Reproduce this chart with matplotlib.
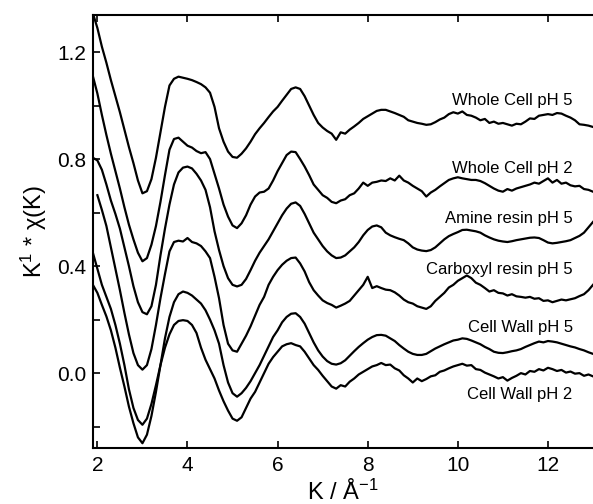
import numpy as np
import matplotlib
matplotlib.use("Agg")
import matplotlib.pyplot as plt
from matplotlib.ticker import FixedLocator

plt.rcParams["font.family"] = ["Liberation Sans", "DejaVu Sans"]
plt.rcParams["mathtext.default"] = "regular"

# k grid (1/Angstrom), 0.1 steps; carboxyl scan starts one step later
k = np.round(np.arange(1.9, 13.05, 0.1), 1)
k_carb = k[1:]

whole_cell_ph5 = [
    1.345, 1.29, 1.22, 1.16, 1.095, 1.035, 0.975, 0.91, 0.845, 0.785,
    0.72, 0.672, 0.68, 0.725, 0.805, 0.90, 0.995, 1.075, 1.100, 1.108,
    1.104, 1.100, 1.095, 1.088, 1.080, 1.068, 1.048, 0.995, 0.915, 0.865,
    0.828, 0.808, 0.805, 0.820, 0.840, 0.865, 0.893, 0.915, 0.935, 0.957,
    0.978, 0.995, 1.018, 1.040, 1.062, 1.068, 1.062, 1.035, 1.000, 0.965,
    0.935, 0.918, 0.905, 0.895, 0.872, 0.900, 0.895, 0.910, 0.922, 0.935,
    0.950, 0.960, 0.970, 0.980, 0.984, 0.984, 0.978, 0.972, 0.965, 0.958,
    0.945, 0.940, 0.935, 0.932, 0.928, 0.930, 0.938, 0.948, 0.955, 0.968,
    0.975, 0.970, 0.978, 0.965, 0.962, 0.955, 0.945, 0.950, 0.935, 0.940,
    0.932, 0.935, 0.930, 0.925, 0.932, 0.930, 0.940, 0.952, 0.950, 0.962,
    0.965, 0.968, 0.965, 0.972, 0.970, 0.962, 0.955, 0.945, 0.930, 0.928,
    0.925, 0.920,
]
whole_cell_ph2 = [
    1.11, 1.045, 0.965, 0.89, 0.82, 0.755, 0.69, 0.62, 0.555, 0.50,
    0.45, 0.418, 0.43, 0.48, 0.55, 0.64, 0.74, 0.835, 0.875, 0.88,
    0.865, 0.85, 0.843, 0.83, 0.822, 0.826, 0.80, 0.745, 0.69, 0.63,
    0.585, 0.552, 0.542, 0.56, 0.59, 0.63, 0.66, 0.675, 0.678, 0.69,
    0.72, 0.755, 0.785, 0.815, 0.828, 0.826, 0.80, 0.772, 0.74, 0.705,
    0.685, 0.665, 0.655, 0.640, 0.635, 0.645, 0.650, 0.665, 0.672, 0.690,
    0.712, 0.700, 0.712, 0.715, 0.720, 0.718, 0.728, 0.720, 0.738, 0.720,
    0.712, 0.700, 0.690, 0.680, 0.660, 0.675, 0.685, 0.698, 0.710, 0.722,
    0.728, 0.732, 0.728, 0.725, 0.722, 0.722, 0.718, 0.710, 0.700, 0.690,
    0.682, 0.678, 0.688, 0.682, 0.690, 0.695, 0.700, 0.705, 0.712, 0.708,
    0.718, 0.728, 0.712, 0.722, 0.708, 0.712, 0.702, 0.698, 0.700, 0.688,
    0.685, 0.678,
]
amine_ph5 = [
    0.805, 0.795, 0.76, 0.705, 0.645, 0.595, 0.54, 0.47, 0.40, 0.325,
    0.265, 0.228, 0.220, 0.25, 0.33, 0.44, 0.54, 0.63, 0.705, 0.75,
    0.768, 0.772, 0.765, 0.745, 0.72, 0.685, 0.62, 0.53, 0.46, 0.40,
    0.355, 0.33, 0.324, 0.33, 0.352, 0.385, 0.42, 0.45, 0.475, 0.50,
    0.53, 0.56, 0.59, 0.615, 0.633, 0.638, 0.625, 0.595, 0.56, 0.525,
    0.50, 0.475, 0.455, 0.44, 0.43, 0.432, 0.44, 0.455, 0.47, 0.49,
    0.515, 0.535, 0.548, 0.552, 0.545, 0.525, 0.515, 0.508, 0.502, 0.497,
    0.485, 0.47, 0.462, 0.458, 0.456, 0.46, 0.47, 0.485, 0.50, 0.512,
    0.52, 0.527, 0.535, 0.536, 0.533, 0.53, 0.525, 0.515, 0.507, 0.50,
    0.495, 0.492, 0.49, 0.493, 0.497, 0.50, 0.503, 0.506, 0.507, 0.505,
    0.497, 0.488, 0.485, 0.487, 0.49, 0.493, 0.497, 0.505, 0.513, 0.525,
    0.545, 0.565,
]
carboxyl_ph5 = [
    0.665, 0.61, 0.55, 0.47, 0.39, 0.31, 0.225, 0.145, 0.075, 0.03,
    0.013, 0.03, 0.09, 0.18, 0.28, 0.37, 0.455, 0.49, 0.495, 0.492,
    0.505, 0.49, 0.485, 0.475, 0.455, 0.43, 0.36, 0.28, 0.18, 0.11,
    0.085, 0.08, 0.11, 0.14, 0.175, 0.215, 0.255, 0.285, 0.33, 0.36,
    0.385, 0.405, 0.42, 0.43, 0.432, 0.41, 0.38, 0.34, 0.31, 0.29,
    0.272, 0.262, 0.255, 0.245, 0.252, 0.26, 0.27, 0.29, 0.31, 0.33,
    0.36, 0.318, 0.325, 0.318, 0.312, 0.31, 0.302, 0.29, 0.275, 0.265,
    0.26, 0.25, 0.245, 0.24, 0.25, 0.27, 0.285, 0.30, 0.32, 0.33,
    0.345, 0.355, 0.365, 0.355, 0.338, 0.33, 0.318, 0.305, 0.31, 0.30,
    0.298, 0.29, 0.295, 0.287, 0.285, 0.282, 0.285, 0.278, 0.28, 0.27,
    0.272, 0.265, 0.27, 0.275, 0.272, 0.276, 0.28, 0.288, 0.295, 0.31,
    0.33,
]
# the two cell wall scans cross on the rise near k = 3.4
cell_wall_ph5 = [
    0.33, 0.30, 0.255, 0.212, 0.16, 0.095, 0.02, -0.05, -0.125, -0.187,
    -0.24, -0.262, -0.23, -0.16, -0.07, 0.03, 0.13, 0.21, 0.265, 0.295,
    0.305, 0.30, 0.29, 0.275, 0.26, 0.235, 0.20, 0.16, 0.11, 0.03,
    -0.035, -0.075, -0.088, -0.075, -0.055, -0.03, 0.0, 0.03, 0.065, 0.10,
    0.135, 0.16, 0.19, 0.21, 0.222, 0.224, 0.21, 0.185, 0.15, 0.115,
    0.085, 0.062, 0.045, 0.035, 0.032, 0.037, 0.048, 0.065, 0.082, 0.098,
    0.112, 0.125, 0.135, 0.142, 0.143, 0.14, 0.13, 0.12, 0.105, 0.092,
    0.08, 0.072, 0.068, 0.068, 0.072, 0.082, 0.092, 0.1, 0.108, 0.115,
    0.122, 0.125, 0.13, 0.128, 0.122, 0.115, 0.108, 0.098, 0.09, 0.08,
    0.076, 0.075, 0.078, 0.082, 0.085, 0.09, 0.098, 0.105, 0.112, 0.118,
    0.115, 0.12, 0.118, 0.115, 0.11, 0.105, 0.1, 0.096, 0.09, 0.085,
    0.078, 0.072,
]
cell_wall_ph2 = [
    0.45, 0.39, 0.33, 0.285, 0.24, 0.18, 0.11, 0.03, -0.06, -0.13,
    -0.175, -0.193, -0.17, -0.115, -0.045, 0.03, 0.095, 0.145, 0.18, 0.195,
    0.198, 0.195, 0.18, 0.15, 0.095, 0.05, 0.015, -0.02, -0.065, -0.105,
    -0.14, -0.17, -0.178, -0.165, -0.13, -0.095, -0.07, -0.035, 0.0, 0.035,
    0.06, 0.08, 0.1, 0.108, 0.112, 0.105, 0.1, 0.08, 0.055, 0.03,
    0.012, -0.01, -0.03, -0.05, -0.058, -0.045, -0.05, -0.032, -0.02, -0.005,
    0.005, 0.015, 0.025, 0.03, 0.038, 0.03, 0.032, 0.018, 0.01, -0.008,
    -0.02, -0.035, -0.02, -0.03, -0.022, -0.012, -0.008, 0.005, 0.01, 0.018,
    0.025, 0.03, 0.035, 0.028, 0.03, 0.015, 0.012, 0.002, -0.005, -0.012,
    -0.02, -0.015, -0.028, -0.018, -0.01, 0.0, -0.005, 0.008, 0.005, 0.015,
    0.01, 0.02, 0.015, 0.008, 0.012, 0.002, 0.006, -0.002, 0.0, -0.01,
    -0.005, -0.012,
]

series = [
    (k, whole_cell_ph5, "Whole Cell pH 5", 1.02),
    (k, whole_cell_ph2, "Whole Cell pH 2", 0.763),
    (k, amine_ph5, "Amine resin pH 5", 0.577),
    (k_carb, carboxyl_ph5, "Carboxyl resin pH 5", 0.386),
    (k, cell_wall_ph5, "Cell Wall pH 5", 0.17),
    (k, cell_wall_ph2, "Cell Wall pH 2", -0.081),
]

fig = plt.figure(figsize=(5.93, 5.04), dpi=100)
ax = fig.add_axes([0.157, 0.111, 0.843, 0.859])

for kx, chi, name, label_y in series:
    ax.plot(kx, chi, color="black", lw=1.6)
    ax.text(12.55, label_y, name, ha="right", va="center", fontsize=12)

ax.set_xlim(1.905, 13.0)
ax.set_ylim(-0.28, 1.338)

ax.set_xticks([2, 4, 6, 8, 10, 12])
ax.yaxis.set_major_locator(FixedLocator([0.0, 0.4, 0.8, 1.2]))
ax.yaxis.set_minor_locator(FixedLocator([-0.2, 0.2, 0.6, 1.0]))
ax.set_yticklabels(["0.0", "0.4", "0.8", "1.2"])

ax.tick_params(which="both", direction="in", length=5, width=1.2,
               top=True, right=False, labelsize=15)
ax.tick_params(axis="x", pad=6)
ax.tick_params(axis="y", pad=5)

ax.spines["right"].set_visible(False)
for side in ["left", "top", "bottom"]:
    ax.spines[side].set_linewidth(1.5)

ax.set_xlabel("K / Å$^{-1}$", fontsize=17, labelpad=3)
ax.set_ylabel("K$^{1}$ * χ(K)", fontsize=17, labelpad=6)

fig.savefig("out.png", dpi=100)
